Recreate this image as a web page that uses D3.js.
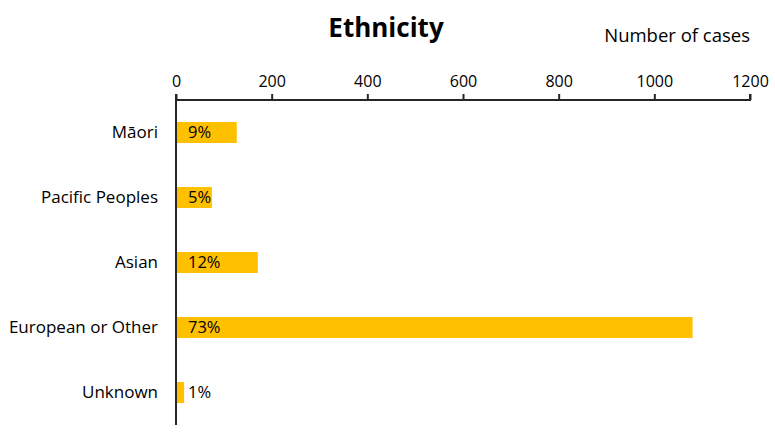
<!DOCTYPE html>
<html><head><meta charset="utf-8">
<script src="https://cdn.jsdelivr.net/npm/d3@7"></script>
<style>body{margin:0;background:#fff}svg{display:block}text{font-family:"Open Sans","Noto Sans",sans-serif;fill:#000}</style>
</head><body><svg id="c" width="775" height="442"></svg>
<script>
const categories = ["Māori","Pacific Peoples","Asian","European or Other","Unknown"];
const cases = [127, 75, 171, 1080, 17];
const percents = ["9%","5%","12%","73%","1%"];
const tickValues = [0,200,400,600,800,1000,1200];

const svg = d3.select("#c");
const m = {left:176, right:750, top:100, bottom:425};
const x = d3.scaleLinear().domain([0,1200]).range([m.left, m.right]);
const y = d3.scaleBand().domain(categories).range([m.top, m.bottom]).paddingInner(0.677).paddingOuter(0.338);

svg.append("text").attr("x",386).attr("y",37).attr("text-anchor","middle")
  .style("font-size","26px").style("font-weight","bold").text("Ethnicity");
svg.append("text").attr("x",750).attr("y",42).attr("text-anchor","end")
  .style("font-size","18.5px").text("Number of cases");

const data = categories.map((c,i)=>({c, v:cases[i], p:percents[i]}));
svg.selectAll("rect.bar").data(data).join("rect").attr("class","bar")
  .attr("x",x(0)).attr("y",d=>y(d.c)).attr("width",d=>x(d.v)-x(0)).attr("height",y.bandwidth())
  .attr("fill","#FFC000");

svg.selectAll("text.pct").data(data).join("text").attr("class","pct")
  .attr("x",x(0)+12).attr("y",d=>y(d.c)+y.bandwidth()/2).attr("dy","0.36em")
  .style("font-size","16.5px").text(d=>d.p);

const xAxis = d3.axisTop(x).tickValues(tickValues).tickSize(6).tickPadding(7).tickFormat(d3.format("d"));
const gx = svg.append("g").attr("transform",`translate(0,${m.top})`).call(xAxis);
gx.select(".domain").attr("stroke","#262626").attr("stroke-width",2).attr("d",`M${m.left},-6V0H${m.right}V-6`);
gx.selectAll(".tick line").attr("stroke","#262626").attr("stroke-width",2);
gx.selectAll(".tick text").style("font-size","16px").style("font-family",'"Open Sans","Noto Sans",sans-serif').attr("fill","#000");

const yAxis = d3.axisLeft(y).tickSize(0).tickPadding(18);
const gy = svg.append("g").attr("transform",`translate(${m.left},0)`).call(yAxis);
gy.select(".domain").attr("stroke","#262626").attr("stroke-width",2).attr("d",`M0,${m.top-6}V${m.bottom}`);
gy.selectAll(".tick text").style("font-size","17px").style("font-family",'"Open Sans","Noto Sans",sans-serif').attr("fill","#000");
</script></body></html>
